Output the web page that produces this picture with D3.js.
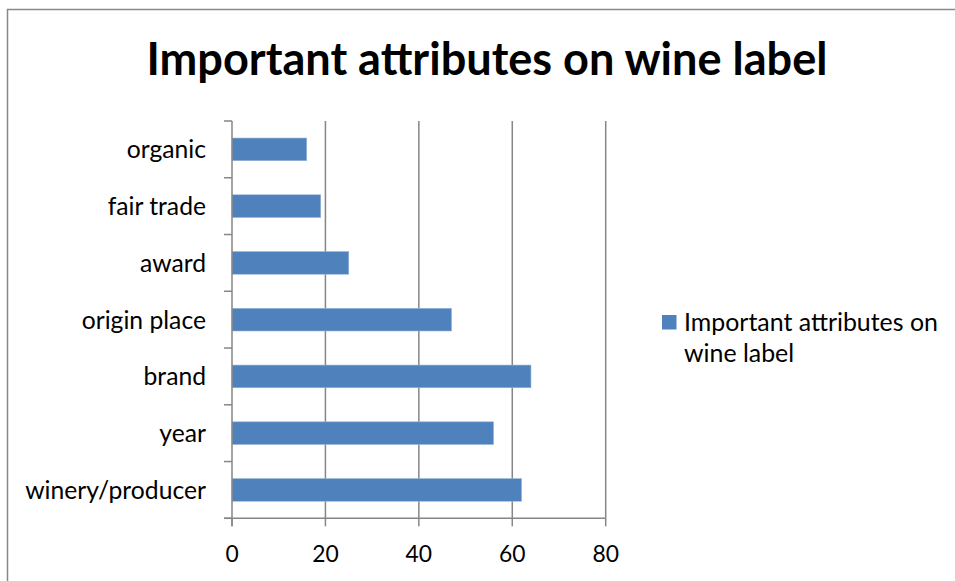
<!DOCTYPE html>
<html>
<head>
<meta charset="utf-8">
<script src="https://cdn.jsdelivr.net/npm/d3@7/dist/d3.min.js"></script>
<style>
  html, body { margin: 0; padding: 0; background: #ffffff; }
  svg { display: block; }
  text { font-family: Lato, "Open Sans", sans-serif; fill: #000; }
</style>
</head>
<body>
<svg id="chart" width="955" height="581"></svg>
<script>
const categories = ["organic", "fair trade", "award", "origin place", "brand", "year", "winery/producer"];
const values = [16, 19, 25, 47, 64, 56, 62];
const xTicks = [0, 20, 40, 60, 80];
const seriesName = "Important attributes on wine label";
const legendLines = ["Important attributes on", "wine label"];
const titleText = "Important attributes on wine label";

const svg = d3.select("#chart");
const W = 955, H = 581;

// outer chart border
svg.append("rect")
  .attr("x", 7.5).attr("y", 9.5)
  .attr("width", W + 10).attr("height", H + 10)
  .attr("fill", "#fff").attr("stroke", "#898989").attr("stroke-width", 1.5);

const plot = { left: 232, right: 605.7, top: 121, bottom: 518.3 };

const x = d3.scaleLinear().domain([0, 80]).range([plot.left, plot.right]);
const y = d3.scaleBand().domain(categories).range([plot.top, plot.bottom]).paddingInner(0.6).paddingOuter(0.3);
const yTicks = d3.scaleBand().domain(categories).range([plot.top, plot.bottom]);

const gridColor = "#868686";

// vertical gridlines
svg.append("g").selectAll("line").data(xTicks.slice(1)).join("line")
  .attr("x1", d => x(d)).attr("x2", d => x(d))
  .attr("y1", plot.top).attr("y2", plot.bottom)
  .attr("stroke", gridColor).attr("stroke-width", 1.5);

// bars
svg.append("g").selectAll("rect").data(categories).join("rect")
  .attr("x", x(0))
  .attr("y", d => y(d))
  .attr("width", (d, i) => x(values[i]) - x(0))
  .attr("height", y.bandwidth())
  .attr("fill", "#4F81BD")
  .attr("stroke", "#9cb7da").attr("stroke-width", 0.6);

// y axis line
svg.append("line")
  .attr("x1", plot.left).attr("x2", plot.left)
  .attr("y1", plot.top).attr("y2", plot.bottom + 8)
  .attr("stroke", gridColor).attr("stroke-width", 1.5);
// y ticks at band boundaries
const yTickPos = categories.map(c => yTicks(c)).concat([plot.bottom]);
svg.append("g").selectAll("line").data(yTickPos).join("line")
  .attr("x1", plot.left - 8).attr("x2", plot.left)
  .attr("y1", d => d).attr("y2", d => d)
  .attr("stroke", gridColor).attr("stroke-width", 1.5);

// x axis line
svg.append("line")
  .attr("x1", plot.left - 8).attr("x2", plot.right)
  .attr("y1", plot.bottom).attr("y2", plot.bottom)
  .attr("stroke", gridColor).attr("stroke-width", 1.5);
svg.append("g").selectAll("line").data(xTicks).join("line")
  .attr("x1", d => x(d)).attr("x2", d => x(d))
  .attr("y1", plot.bottom).attr("y2", plot.bottom + 8)
  .attr("stroke", gridColor).attr("stroke-width", 1.5);

// fit font size helper
function fitSize(txt, weight, target) {
  const t = svg.append("text").attr("font-size", 100).attr("font-weight", weight).text(txt);
  const w = t.node().getComputedTextLength();
  t.remove();
  return 100 * target / w;
}

const labelSize = fitSize("winery/producer", 400, 181);
const tickSize = fitSize("80", 400, 26.5);
const legendSize = fitSize(legendLines[0], 400, 254);
const titleSize = fitSize(titleText, 700, 681);

// category labels
svg.append("g").selectAll("text").data(categories).join("text")
  .attr("x", 206)
  .attr("y", d => yTicks(d) + yTicks.bandwidth() / 2 + 9)
  .attr("text-anchor", "end")
  .attr("font-size", labelSize)
  .text(d => d);

// x tick labels
svg.append("g").selectAll("text").data(xTicks).join("text")
  .attr("x", d => x(d))
  .attr("y", 561.5)
  .attr("text-anchor", "middle")
  .attr("font-size", tickSize)
  .text(d => d);

// title
svg.append("text")
  .attr("x", 487).attr("y", 74.5)
  .attr("text-anchor", "middle")
  .attr("font-weight", 700)
  .attr("font-size", titleSize)
  .text(titleText);

// legend
const lg = svg.append("g");
lg.append("rect")
  .attr("x", 662).attr("y", 315).attr("width", 14.5).attr("height", 14.5)
  .attr("fill", "#4F81BD");
lg.selectAll("text").data(legendLines).join("text")
  .attr("x", 684)
  .attr("y", (d, i) => 330.5 + i * 31.7)
  .attr("font-size", legendSize)
  .text(d => d);
</script>
</body>
</html>
